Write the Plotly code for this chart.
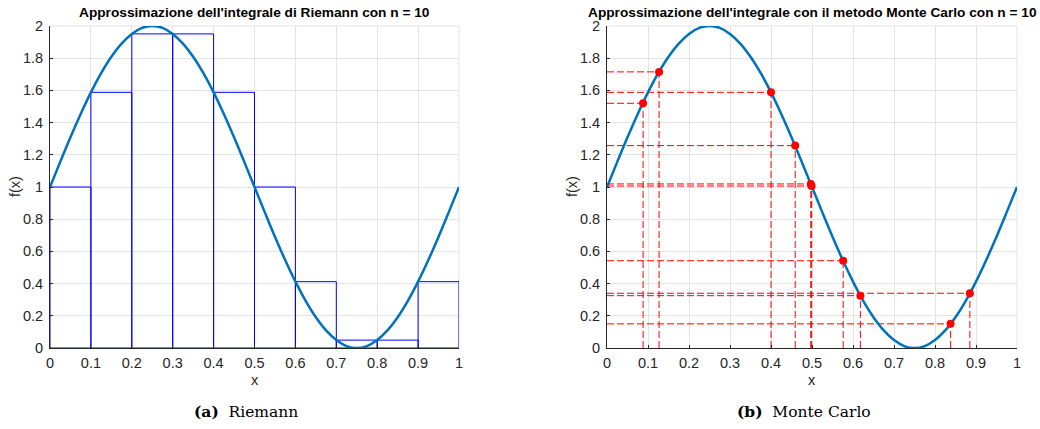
import plotly.graph_objects as go

# Sampled curve f(x) on [0, 1]
curve_x = [i / 40 for i in range(41)]
curve_y = [1.000, 1.156, 1.309, 1.454, 1.588, 1.707, 1.809, 1.891, 1.951, 1.988,
           2.000, 1.988, 1.951, 1.891, 1.809, 1.707, 1.588, 1.454, 1.309, 1.156,
           1.000, 0.844, 0.691, 0.546, 0.412, 0.293, 0.191, 0.109, 0.049, 0.012,
           0.000, 0.012, 0.049, 0.109, 0.191, 0.293, 0.412, 0.546, 0.691, 0.844,
           1.000]

# Riemann left sums, n = 10
rect_left = [0.0, 0.1, 0.2, 0.3, 0.4, 0.5, 0.6, 0.7, 0.8, 0.9]
rect_width = 0.1
rect_height = [1.000, 1.588, 1.951, 1.951, 1.588, 1.000, 0.412, 0.049, 0.049, 0.412]

# Monte Carlo sample points
mc_x = [0.088, 0.127, 0.400, 0.459, 0.497, 0.499, 0.576, 0.618, 0.838, 0.885]
mc_y = [1.520, 1.715, 1.588, 1.257, 1.019, 1.006, 0.542, 0.325, 0.150, 0.340]

x_ticks = [0, 0.1, 0.2, 0.3, 0.4, 0.5, 0.6, 0.7, 0.8, 0.9, 1]
x_labels = ["0", "0.1", "0.2", "0.3", "0.4", "0.5", "0.6", "0.7", "0.8", "0.9", "1"]
y_ticks = [0, 0.2, 0.4, 0.6, 0.8, 1, 1.2, 1.4, 1.6, 1.8, 2]
y_labels = ["0", "0.2", "0.4", "0.6", "0.8", "1", "1.2", "1.4", "1.6", "1.8", "2"]

title_a = "Approssimazione dell'integrale di Riemann con n = 10"
title_b = "Approssimazione dell'integrale con il metodo Monte Carlo con n = 10"

W, H = 1040, 429
CURVE_COLOR = "#0072BD"
GRID = "#e3e3e3"
AXIS = "#262626"
FONT = "Liberation Sans, Arial, sans-serif"


def px_x(p):
    return p / W


def px_y(p):
    return (H - p) / H


fig = go.Figure()

# Rectangles of the Riemann sum as closed outlines
rx, ry = [], []
for x0, h in zip(rect_left, rect_height):
    x1 = x0 + rect_width
    rx += [x0, x0, x1, x1, x0, None]
    ry += [0, h, h, 0, 0, None]
fig.add_trace(go.Scatter(x=rx, y=ry, mode="lines", xaxis="x", yaxis="y",
                         line=dict(color="#0000FF", width=1), hoverinfo="skip"))
fig.add_trace(go.Scatter(x=curve_x, y=curve_y, mode="lines", xaxis="x", yaxis="y",
                         line=dict(color=CURVE_COLOR, width=2.5, shape="spline")))

# Monte Carlo guide lines
gx, gy = [], []
for x, y in zip(mc_x, mc_y):
    gx += [0, x, None, x, x, None]
    gy += [y, y, None, 0, y, None]
fig.add_trace(go.Scatter(x=gx, y=gy, mode="lines", xaxis="x2", yaxis="y2",
                         line=dict(color="#FF0000", width=1, dash="7px,3px"),
                         hoverinfo="skip"))
fig.add_trace(go.Scatter(x=curve_x, y=curve_y, mode="lines", xaxis="x2", yaxis="y2",
                         line=dict(color=CURVE_COLOR, width=2.5, shape="spline")))
fig.add_trace(go.Scatter(x=mc_x, y=mc_y, mode="markers", xaxis="x2", yaxis="y2",
                         marker=dict(color="#FF0000", size=8)))

y_dom = [px_y(348), px_y(26)]
x_doms = [[px_x(50), px_x(459)], [px_x(607), px_x(1017)]]

axis_common = dict(showgrid=True, gridcolor=GRID, gridwidth=1, zeroline=False,
                   showline=True, linecolor=AXIS, linewidth=1, ticks="inside",
                   ticklen=3, tickcolor=AXIS, automargin=False,
                   tickfont=dict(family=FONT, size=14.5, color=AXIS))

fig.update_layout(
    width=W, height=H, autosize=False,
    margin=dict(l=0, r=0, t=0, b=0, pad=0, autoexpand=False),
    paper_bgcolor="white", plot_bgcolor="white", showlegend=False,
    xaxis=dict(domain=x_doms[0], range=[0, 1], tickvals=x_ticks, ticktext=x_labels,
               anchor="y", ticklabelstandoff=2, **axis_common),
    yaxis=dict(domain=y_dom, range=[0, 2], tickvals=y_ticks, ticktext=y_labels,
               anchor="x", ticklabelstandoff=3, **axis_common),
    xaxis2=dict(domain=x_doms[1], range=[0, 1], tickvals=x_ticks, ticktext=x_labels,
                anchor="y2", ticklabelstandoff=2, **axis_common),
    yaxis2=dict(domain=y_dom, range=[0, 2], tickvals=y_ticks, ticktext=y_labels,
                anchor="x2", ticklabelstandoff=3, **axis_common),
)

# Light top/right borders of each axes box
for xr, yr in (("x domain", "y domain"), ("x2 domain", "y2 domain")):
    fig.add_shape(type="line", xref=xr, yref=yr, x0=0, x1=1, y0=1, y1=1,
                  line=dict(color=GRID, width=1), layer="below")
    fig.add_shape(type="line", xref=xr, yref=yr, x0=1, x1=1, y0=0, y1=1,
                  line=dict(color=GRID, width=1), layer="below")

annotations = []
for (d0, d1), title, lx, cap, cap_x in (
        (x_doms[0], title_a, 15, "<b>(a)</b>  Riemann", 246),
        (x_doms[1], title_b, 572, "<b>(b)</b>  Monte Carlo", 804)):
    cx = (d0 + d1) / 2
    annotations.append(dict(x=cx, y=px_y(13), xref="paper", yref="paper", text=f"<b>{title}</b>",
                            showarrow=False, font=dict(family=FONT, size=13.7, color="black"),
                            xanchor="center", yanchor="middle"))
    annotations.append(dict(x=cx, y=px_y(380), xref="paper", yref="paper", text="x",
                            showarrow=False, font=dict(family=FONT, size=14.5, color=AXIS),
                            xanchor="center", yanchor="middle"))
    annotations.append(dict(x=px_x(lx), y=px_y(187), xref="paper", yref="paper", text="f(x)",
                            showarrow=False, textangle=-90,
                            font=dict(family=FONT, size=14.5, color=AXIS),
                            xanchor="center", yanchor="middle"))
    annotations.append(dict(x=px_x(cap_x), y=px_y(411), xref="paper", yref="paper", text=cap,
                            showarrow=False,
                            font=dict(family="DejaVu Serif, Liberation Serif, serif", size=15.5,
                                      color="black"),
                            xanchor="center", yanchor="middle"))
fig.update_layout(annotations=annotations)

fig.write_html("out.html")
